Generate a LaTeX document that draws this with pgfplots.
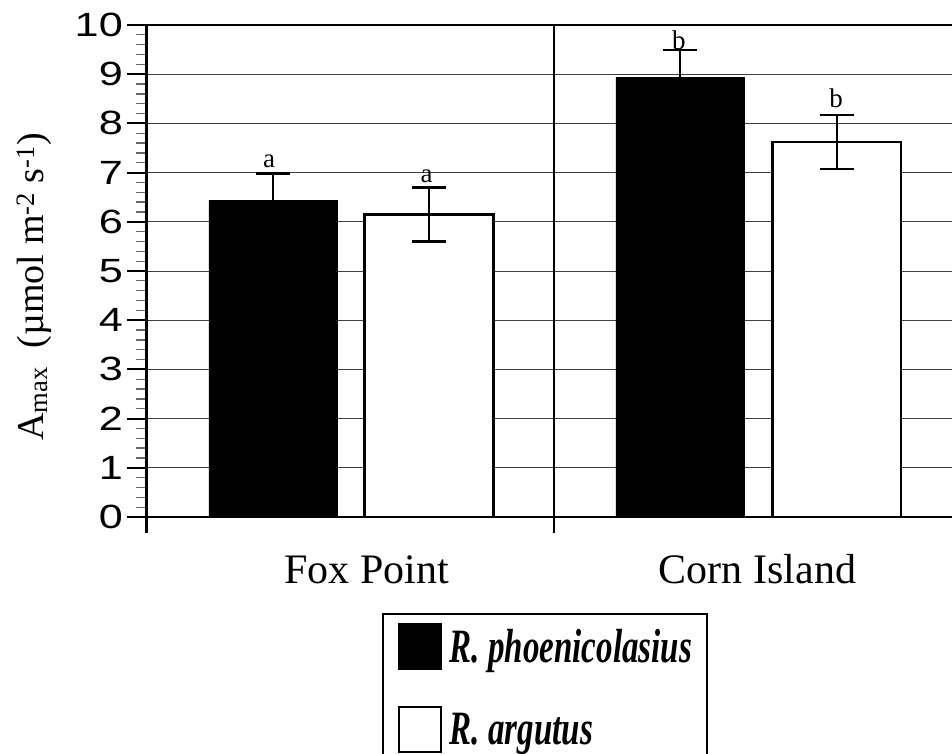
\documentclass[border=0pt]{standalone}
\usepackage{fontspec}
\setmainfont{Liberation Serif}
\setsansfont{Liberation Sans}
\usepackage{graphicx}
\usepackage{pgfplots}
\pgfplotsset{compat=1.18}

\begin{document}
\begin{tikzpicture}
\begin{axis}[
  at={(147pt,236pt)}, anchor=south west,
  scale only axis, width=805pt, height=492pt,
  xmin=-0.5, xmax=1.478, ymin=0, ymax=10,
  clip=false,
  ybar, bar width=0.316,
  axis x line*=bottom, axis y line*=left,
  x axis line style={line width=2pt},
  y axis line style={line width=3pt},
  xtick={0,1}, xticklabels={{\hspace*{32pt}Fox Point},{Corn Island}},
  xtick align=inside, major x tick style=transparent,
  xticklabel style={anchor=base, yshift=-66pt, font=\fontsize{42}{50}\selectfont},
  ytick={0,1,...,10}, minor y tick num=4,
  ytick align=outside,
  major tick length=20pt, minor tick length=11pt,
  every major tick/.append style={line width=2pt, black},
  every minor tick/.append style={line width=1.3pt, black!60},
  ymajorgrids, grid style={line width=1pt, black!75},
  /pgf/number format/assume math mode=true,
  yticklabel={\fontsize{32}{38}\sffamily\selectfont\scalebox{1.35}[1.05]{\pgfmathprintnumber{\tick}}},
  yticklabel style={inner xsep=4pt},
  ylabel={A\textsubscript{max}\ \ (µmol m\textsuperscript{-2} s\textsuperscript{-1})},
  ylabel style={at={(axis description cs:-0.128,0.4675)}, anchor=base, font=\fontsize{38}{46}\selectfont},
  legend style={at={(0.2919,-0.1951)}, anchor=north west, draw=black, line width=2pt,
    inner xsep=15pt, inner ysep=9pt, row sep=36pt, column sep=8pt,
    nodes={inner sep=0pt},
    font=\fontsize{33}{40}\selectfont\bfseries\itshape},
  legend cell align=left,
]
\addplot[fill=black, draw=black, bar shift=0pt,
  legend image code/.code={\draw[fill=black, draw=black, line width=2pt] (0pt,-22.5pt) rectangle (42pt,22.5pt);},
  error bars/.cd, y dir=both, y explicit,
  error bar style={line width=2.5pt, black},
  error mark options={rotate=90, mark size=17pt, line width=2.5pt, black}]
  coordinates {(-0.19,6.43) +- (0,0.55) (0.81,8.94) +- (0,0.55)};
\addlegendentry{\scalebox{1}[1.45]{R. phoenicolasius}}
\addplot[fill=white, draw=black, line width=2.5pt, bar shift=0pt,
  legend image code/.code={\draw[fill=white, draw=black, line width=2pt] (0pt,-22.5pt) rectangle (42pt,22.5pt);},
  error bars/.cd, y dir=both, y explicit,
  error bar style={line width=2.5pt, black},
  error mark options={rotate=90, mark size=17pt, line width=2.5pt, black}]
  coordinates {(0.193,6.15) +- (0,0.55) (1.195,7.62) +- (0,0.55)};
\addlegendentry{\scalebox{1}[1.45]{R. argutus}}
\draw[line width=2.3pt] (axis cs:-0.5,10) -- (axis cs:1.478,10);
\draw[line width=3pt] (axis cs:-0.5,0) -- ([yshift=-16pt]axis cs:-0.5,0);
\draw[line width=1.5pt] (axis cs:0.5,10) -- ([yshift=-16pt]axis cs:0.5,0);
\node[anchor=base, font=\fontsize{27}{30}\selectfont] at (axis cs:-0.200,7.10) {a};
\node[anchor=base, font=\fontsize{27}{30}\selectfont] at (axis cs:0.187,6.79) {a};
\node[anchor=base, font=\fontsize{27}{30}\selectfont] at (axis cs:0.807,9.50) {b};
\node[anchor=base, font=\fontsize{27}{30}\selectfont] at (axis cs:1.193,8.32) {b};
\end{axis}
\pgfresetboundingbox
\useasboundingbox (0,0) rectangle (952pt,753pt);
\end{tikzpicture}
\end{document}
